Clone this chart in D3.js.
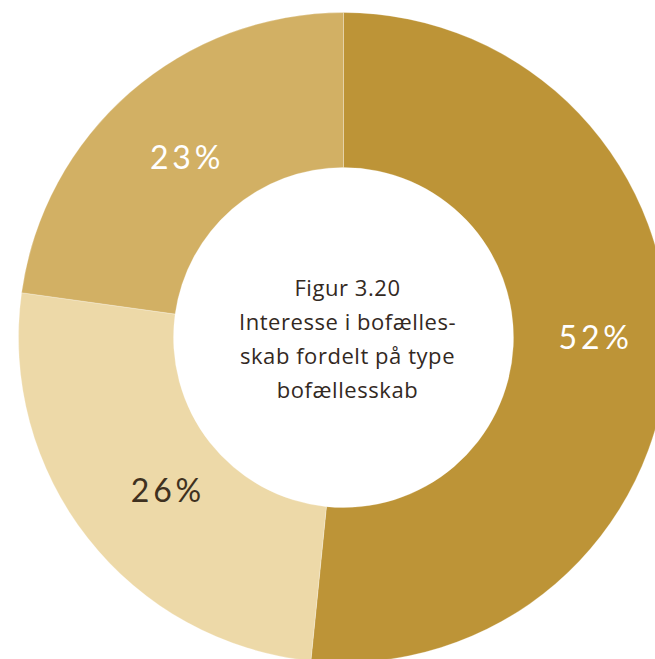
<!DOCTYPE html>
<html>
<head>
<meta charset="utf-8">
<script src="https://cdn.jsdelivr.net/npm/d3@7"></script>
<style>
  html, body { margin: 0; padding: 0; background: #fff; }
  svg { display: block; }
</style>
</head>
<body>
<svg id="chart" width="655" height="659"></svg>
<script>
// Data
const categories = ["Type A", "Type B", "Type C"];
const values = [51.6, 25.6, 22.8];
const labels = ["52%", "26%", "23%"];
const colors = ["#BD9437", "#EDD9A8", "#D2B064"];
const labelColors = ["#ffffff", "#3f3120", "#ffffff"];
const titleLines = ["Figur 3.20", "Interesse i bofælles-", "skab fordelt på type", "bofællesskab"];

const svg = d3.select("#chart");
const cx = 343.5, cy = 337.5;
const outerR = 325, innerR = 170;

const g = svg.append("g").attr("transform", `translate(${cx},${cy})`);

const pie = d3.pie().sort(null).value(d => d.value);
const data = categories.map((c, i) => ({ cat: c, value: values[i], label: labels[i], i }));
const arcs = pie(data);

const arc = d3.arc().innerRadius(innerR).outerRadius(outerR);
const labelArc = d3.arc().innerRadius(240).outerRadius(255);

g.selectAll("path.slice")
  .data(arcs)
  .enter().append("path")
  .attr("class", "slice")
  .attr("d", arc)
  .attr("fill", d => colors[d.data.i])
  .attr("stroke", "rgba(255,255,255,0.25)")
  .attr("stroke-width", 1);

const nudges = [[5, -13], [19, -1], [6, 6]];
g.selectAll("text.lbl")
  .data(arcs)
  .enter().append("text")
  .attr("class", "lbl")
  .attr("transform", d => {
    const c = labelArc.centroid(d);
    const n = nudges[d.data.i];
    return `translate(${c[0] + n[0]},${c[1] + n[1]})`;
  })
  .attr("text-anchor", "middle")
  .attr("dominant-baseline", "central")
  .attr("font-family", "Lato, 'Open Sans', sans-serif")
  .attr("font-weight", 400)
  .attr("font-size", 32)
  .attr("letter-spacing", 3.8)
  .attr("fill", d => labelColors[d.data.i])
  .text(d => d.data.label);

const title = g.append("text")
  .attr("text-anchor", "middle")
  .attr("font-family", "'Open Sans', 'Noto Sans', sans-serif")
  .attr("font-size", 22)
  .attr("letter-spacing", 0.55)
  .attr("fill", "#33291f");
titleLines.forEach((t, i) => {
  title.append("tspan")
    .attr("x", 4)
    .attr("y", -42 + i * 34)
    .text(t);
});
</script>
</body>
</html>
